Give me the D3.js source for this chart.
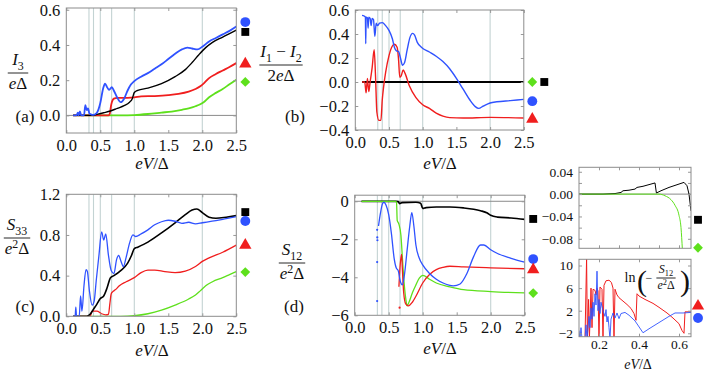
<!DOCTYPE html>
<html>
<head>
<meta charset="utf-8">
<script src="https://cdn.jsdelivr.net/npm/d3@7"></script>
<style>
  body { margin: 0; background: #fff; }
  text { font-family: "Liberation Serif", "DejaVu Serif", serif; fill: #111; }
</style>
</head>
<body>
<svg id="fig" width="706" height="373"></svg>
<script>
// ---- data (x = eV/Delta) ----
var gridV = [1/3, 0.4, 0.5, 2/3, 1.0, 2.0];
var xTicks = [0, 0.5, 1, 1.5, 2, 2.5];

// (a) I3
var a_blue = [[0.1,0],[0.15,0],[0.17,0.015],[0.18,0],[0.2,0.022],[0.22,0],[0.26,0],[0.28,0.058],[0.3,0.03],[0.32,0.04],[0.34,0.01],[0.37,0.005],[0.4,0.003],[0.45,0.015],[0.5,0.07],[0.54,0.15],[0.57,0.18],[0.6,0.16],[0.63,0.145],[0.67,0.16],[0.7,0.14],[0.75,0.1],[0.8,0.075],[0.85,0.095],[0.9,0.14],[0.95,0.175],[1.0,0.195],[1.1,0.22],[1.2,0.24],[1.3,0.265],[1.4,0.29],[1.5,0.32],[1.6,0.35],[1.7,0.375],[1.78,0.385],[1.85,0.38],[1.93,0.375],[2.0,0.39],[2.1,0.42],[2.2,0.44],[2.3,0.46],[2.4,0.48],[2.5,0.505]];
var a_black = [[0.1,0],[0.38,0],[0.45,0.006],[0.55,0.015],[0.65,0.025],[0.75,0.04],[0.85,0.055],[0.93,0.075],[0.97,0.095],[1.0,0.13],[1.05,0.142],[1.2,0.155],[1.4,0.18],[1.6,0.22],[1.75,0.26],[1.85,0.3],[1.95,0.345],[2.05,0.385],[2.15,0.415],[2.3,0.445],[2.4,0.465],[2.5,0.485]];
var a_red = [[0.1,0],[0.62,0],[0.64,0.01],[0.66,0.06],[0.7,0.095],[0.75,0.1],[0.9,0.1],[1.0,0.102],[1.1,0.108],[1.3,0.11],[1.5,0.115],[1.65,0.122],[1.8,0.135],[1.9,0.15],[1.97,0.165],[2.03,0.185],[2.1,0.212],[2.2,0.235],[2.3,0.255],[2.4,0.275],[2.5,0.297]];
var a_green = [[0.1,0],[0.8,0],[1.0,0.002],[1.2,0.008],[1.4,0.016],[1.55,0.022],[1.7,0.032],[1.8,0.04],[1.9,0.052],[1.97,0.063],[2.02,0.075],[2.1,0.103],[2.2,0.128],[2.3,0.15],[2.4,0.177],[2.5,0.203]];

// (b) (I1 - I2)/2
var b_blue = [[0.1,0.555],[0.13,0.55],[0.15,0.54],[0.155,0.32],[0.16,0.54],[0.18,0.535],[0.19,0.45],[0.2,0.54],[0.22,0.53],[0.235,0.47],[0.25,0.53],[0.27,0.52],[0.29,0.38],[0.31,0.49],[0.33,0.47],[0.36,0.49],[0.4,0.495],[0.45,0.47],[0.5,0.43],[0.55,0.36],[0.58,0.29],[0.61,0.26],[0.64,0.255],[0.67,0.2],[0.7,0.14],[0.73,0.16],[0.77,0.27],[0.81,0.37],[0.85,0.405],[0.88,0.39],[0.92,0.33],[0.98,0.29],[1.1,0.25],[1.2,0.215],[1.3,0.17],[1.4,0.11],[1.5,0.03],[1.6,-0.06],[1.7,-0.15],[1.78,-0.205],[1.83,-0.22],[1.9,-0.2],[2.0,-0.175],[2.1,-0.165],[2.3,-0.155],[2.5,-0.145]];
var b_red = [[0.1,0],[0.14,0],[0.16,-0.09],[0.18,0.03],[0.2,-0.08],[0.22,0.0],[0.25,0.12],[0.28,0.27],[0.3,0.05],[0.32,-0.25],[0.35,-0.32],[0.38,-0.32],[0.4,-0.15],[0.42,-0.04],[0.45,0.08],[0.5,0.22],[0.55,0.3],[0.58,0.315],[0.62,0.29],[0.64,0.2],[0.66,0.04],[0.68,0.05],[0.71,0.1],[0.74,0.07],[0.8,-0.03],[0.9,-0.13],[1.0,-0.19],[1.1,-0.22],[1.2,-0.26],[1.3,-0.285],[1.4,-0.297],[1.6,-0.3],[2.0,-0.295],[2.5,-0.3]];
var b_green = [[0.1,0],[2.5,0]];
var b_black = [[0.1,0],[2.5,0]];

// (c) S33
var c_blue = [[0.1,0],[0.13,0],[0.14,0.09],[0.15,0],[0.19,0],[0.21,0.2],[0.23,0.05],[0.26,0.3],[0.29,0.46],[0.31,0.44],[0.34,0.25],[0.38,0.11],[0.41,0.15],[0.44,0.35],[0.48,0.6],[0.52,0.83],[0.55,0.75],[0.58,0.81],[0.62,0.6],[0.66,0.45],[0.7,0.42],[0.74,0.56],[0.77,0.6],[0.8,0.55],[0.84,0.49],[0.88,0.58],[0.93,0.72],[0.98,0.8],[1.02,0.785],[1.1,0.81],[1.2,0.85],[1.3,0.9],[1.4,0.93],[1.5,0.945],[1.6,0.935],[1.7,0.915],[1.8,0.925],[1.9,0.91],[2.0,0.92],[2.2,0.94],[2.35,0.96],[2.5,0.98]];
var c_black = [[0.1,0],[0.3,0],[0.35,0.02],[0.4,0.07],[0.45,0.12],[0.5,0.175],[0.55,0.2],[0.6,0.28],[0.65,0.38],[0.7,0.4],[0.8,0.45],[0.9,0.52],[0.96,0.6],[1.0,0.665],[1.05,0.68],[1.2,0.73],[1.4,0.82],[1.6,0.92],[1.75,1.0],[1.85,1.045],[1.92,1.055],[2.0,1.02],[2.1,0.975],[2.2,0.965],[2.35,0.975],[2.5,0.99]];
var c_red = [[0.1,0],[0.35,0],[0.38,0.05],[0.45,0.05],[0.52,0.025],[0.58,0.015],[0.62,0.02],[0.64,0.12],[0.66,0.22],[0.68,0.24],[0.72,0.26],[0.78,0.3],[0.88,0.34],[1.0,0.38],[1.1,0.43],[1.2,0.455],[1.3,0.455],[1.45,0.44],[1.6,0.43],[1.75,0.445],[1.9,0.49],[2.0,0.54],[2.1,0.575],[2.3,0.63],[2.5,0.7]];
var c_green = [[0.1,0],[0.8,0],[1.0,0.006],[1.2,0.025],[1.4,0.06],[1.6,0.11],[1.8,0.17],[1.9,0.21],[1.97,0.25],[2.05,0.3],[2.15,0.34],[2.3,0.38],[2.4,0.41],[2.5,0.44]];

// (d) S12
var d_black = [[0.1,0],[0.6,0],[0.64,-0.02],[0.66,-0.12],[0.7,-0.07],[0.9,-0.05],[0.97,-0.1],[1.0,-0.38],[1.05,-0.33],[1.2,-0.3],[1.4,-0.3],[1.6,-0.35],[1.75,-0.42],[1.85,-0.5],[1.95,-0.62],[2.0,-0.74],[2.1,-0.83],[2.3,-0.88],[2.5,-0.95]];
var d_blue = [[0.35,-1.3],[0.38,-0.6],[0.41,-0.12],[0.43,-0.05],[0.46,-0.2],[0.5,-0.7],[0.54,-1.7],[0.58,-3.0],[0.61,-3.5],[0.64,-3.65],[0.67,-4.2],[0.7,-4.4],[0.73,-3.9],[0.77,-2.6],[0.81,-1.3],[0.84,-0.6],[0.87,-1.3],[0.9,-2.3],[0.95,-3.0],[1.0,-3.35],[1.1,-3.8],[1.2,-4.1],[1.3,-4.3],[1.45,-4.45],[1.55,-4.35],[1.65,-3.8],[1.75,-2.9],[1.85,-2.3],[1.9,-2.3],[2.0,-2.55],[2.1,-2.75],[2.3,-3.0],[2.5,-3.2]];
var d_blue_pts = [[0.33,-1.5],[0.332,-1.9],[0.334,-2.05],[0.33,-3.2],[0.33,-5.25]];
var d_red = [[0.65,-4.5],[0.67,-3.3],[0.69,-2.8],[0.7,-3.5],[0.72,-4.8],[0.75,-5.4],[0.79,-5.5],[0.85,-5.3],[0.9,-5.0],[1.0,-4.3],[1.1,-3.85],[1.2,-3.6],[1.3,-3.48],[1.4,-3.42],[1.6,-3.45],[2.0,-3.5],[2.5,-3.55]];
var d_red_pts = [[0.66,-5.6]];
var d_green = [[0.1,0],[0.6,0],[0.615,-0.05],[0.625,-1.0],[0.65,-1.2],[0.68,-1.8],[0.7,-2.9],[0.72,-4.0],[0.75,-5.1],[0.77,-5.5],[0.8,-5.3],[0.85,-4.8],[0.9,-4.4],[0.95,-4.05],[1.0,-3.9],[1.1,-4.1],[1.2,-4.3],[1.4,-4.5],[1.6,-4.65],[2.0,-4.75],[2.5,-4.82]];

// insets (zoom of (d) at small eV)
var i1_black = [[0.1,0],[0.22,0],[0.28,0.001],[0.31,0.003],[0.32,0.006],[0.35,0.007],[0.38,0.009],[0.39,0.012],[0.42,0.014],[0.47,0.019],[0.48,0.02],[0.487,0.002],[0.51,0.006],[0.55,0.012],[0.6,0.018],[0.625,0.021],[0.64,0.015],[0.65,0.0],[0.66,-0.03]];
var i1_green = [[0.1,0],[0.5,0],[0.53,-0.003],[0.56,-0.01],[0.58,-0.02],[0.6,-0.038],[0.61,-0.06],[0.617,-0.1]];
var i2_red = [[0.13,-3],[0.138,11.5],[0.142,-3],[0.148,4],[0.152,-3],[0.16,6],[0.165,-1],[0.17,5.8],[0.18,5.6],[0.185,4.8],[0.19,6],[0.195,5.5],[0.2,-3],[0.205,6.2],[0.215,5.8],[0.22,-3],[0.225,6.5],[0.235,7.3],[0.25,7.4],[0.262,7],[0.27,6],[0.275,-3],[0.28,5.8],[0.29,4.8],[0.3,4.3],[0.32,3.7],[0.34,3.1],[0.36,2.4],[0.375,1.5],[0.385,0.3],[0.39,5],[0.4,4.6],[0.43,4],[0.47,3.3],[0.5,2.6],[0.54,1.6],[0.57,0.7],[0.6,-0.3],[0.615,-1.5],[0.625,-2],[0.63,1.8],[0.66,1.8]];
var i2_blue = [[0.1,-1.5],[0.105,-3],[0.11,-1],[0.115,-3],[0.13,-3],[0.135,-0.5],[0.14,-3],[0.15,1],[0.155,-1],[0.16,2.5],[0.165,0.5],[0.17,3.5],[0.175,1],[0.18,5],[0.185,3],[0.19,9],[0.195,2],[0.2,4],[0.205,1.5],[0.21,3.5],[0.22,2],[0.23,1],[0.235,2.2],[0.24,0],[0.245,1],[0.25,-1],[0.255,-3],[0.26,0.5],[0.27,1.6],[0.28,0.7],[0.29,1.6],[0.3,0.6],[0.31,1.5],[0.33,1.7],[0.35,1.2],[0.38,0.2],[0.42,-1.9],[0.45,-1.2],[0.5,-0.1],[0.55,1.0],[0.58,1.6],[0.62,1.6],[0.66,1.7]];

// legend-like markers at the right of each panel (y in data units)
var a_marks = [["blue","circle",0.53],["black","square",0.474],["red","triangle",0.292],["green","diamond",0.19]];
var b_marks = [["green","diamond",0,0],["black","square",0,1],["blue","circle",-0.16,0],["red","triangle",-0.31,0]];
var c_marks = [["black","square",1.025],["blue","circle",0.937],["red","triangle",0.70],["green","diamond",0.435]];
var d_marks = [["black","square",-0.93],["blue","circle",-3.04],["red","triangle",-3.6],["green","diamond",-4.83]];
var i1_marks = [["black","square",-0.046],["green","diamond",-0.096]];
var i2_marks = [["red","triangle",2.83],["blue","circle",0.71]];

var col = {blue:"#2f52ff", red:"#f01e1e", green:"#5ee01c", black:"#000"};

var svg = d3.select("#fig");
var clipN = 0;

function mtext(g, x, y, parts, size, anchor){
  var t = g.append("text").attr("x", x).attr("y", y)
    .attr("text-anchor", anchor || "middle").style("font-size", size + "px");
  var shift = 0;
  parts.forEach(function(p){
    var s = t.append("tspan").text(p[0]);
    var want = p[1] === "sub" ? size*0.25 : (p[1] === "sup" ? -size*0.38 : 0);
    if(want - shift !== 0) s.attr("dy", want - shift);
    shift = want;
    if(p[1] === "i") s.style("font-style", "italic");
    if(p[1] === "sub" || p[1] === "sup") s.style("font-size", (size*0.7) + "px");
  });
  return t;
}

function frac(g, cx, cy, num, den, size){
  var n = mtext(g, cx, cy - size*0.45, num, size);
  var d = mtext(g, cx, cy + size*0.95, den, size);
  var w = Math.max(n.node().getComputedTextLength(), d.node().getComputedTextLength()) + 2;
  g.append("line").attr("x1", cx - w/2).attr("x2", cx + w/2)
    .attr("y1", cy).attr("y2", cy).attr("stroke", "#111").attr("stroke-width", 0.9);
}

function marker(g, x, y, c, shape){
  var types = {circle: d3.symbolCircle, square: d3.symbolSquare, triangle: d3.symbolTriangle, diamond: d3.symbolSquare};
  var sizes = {circle: 76, square: 62, triangle: 66, diamond: 48};
  g.append("path").attr("d", d3.symbol().type(types[shape]).size(sizes[shape])())
    .attr("transform", "translate(" + x + "," + y + ")" + (shape === "diamond" ? " rotate(45)" : ""))
    .attr("fill", col[c]);
}

function panel(p){
  var x = d3.scaleLinear().domain(p.xd).range(p.xr);
  var y = d3.scaleLinear().domain(p.yd).range(p.yr);
  var g = svg.append("g");
  var id = "clip" + (clipN++);
  g.append("clipPath").attr("id", id).append("rect")
    .attr("x", p.xr[0]).attr("y", p.yr[1])
    .attr("width", p.xr[1] - p.xr[0]).attr("height", p.yr[0] - p.yr[1]);
  var inner = g.append("g").attr("clip-path", "url(#" + id + ")");

  (p.grid || []).forEach(function(v){
    inner.append("line").attr("x1", x(v)).attr("x2", x(v))
      .attr("y1", p.yr[0]).attr("y2", p.yr[1])
      .attr("stroke", "#c3d3d3").attr("stroke-width", 1.1);
  });
  if(p.zero){
    inner.append("line").attr("x1", p.xr[0]).attr("x2", p.xr[1])
      .attr("y1", y(0)).attr("y2", y(0)).attr("stroke", "#8a8a8a").attr("stroke-width", 1);
  }

  var line = d3.line().x(function(d){ return x(d[0]); }).y(function(d){ return y(d[1]); });
  p.series.forEach(function(s){
    inner.append("path").datum(s.data)
      .attr("d", line.curve(s.curve || d3.curveMonotoneX))
      .attr("fill", "none").attr("stroke", col[s.c])
      .attr("stroke-width", s.w || p.lw || 1.5)
      .attr("stroke-linejoin", "round");
    (s.pts || []).forEach(function(d){
      inner.append("circle").attr("cx", x(d[0])).attr("cy", y(d[1])).attr("r", 1.1).attr("fill", col[s.c]);
    });
  });

  // frame + inward ticks
  var ts = 3;
  var fmtY = p.fmtY || d3.format(".1f");
  var pad = p.pad || 6;
  var axB = g.append("g").attr("transform", "translate(0," + p.yr[0] + ")")
    .call(d3.axisBottom(x).tickValues(p.xt).tickSize(-ts).tickPadding(pad)
      .tickFormat(p.noXLabels ? "" : (p.fmtX || d3.format(".1f"))));
  var axT = g.append("g").attr("transform", "translate(0," + p.yr[1] + ")")
    .call(d3.axisTop(x).tickValues(p.xt).tickSize(-ts).tickFormat(""));
  var axL = g.append("g").attr("transform", "translate(" + p.xr[0] + ",0)")
    .call(d3.axisLeft(y).tickValues(p.yt).tickSize(-ts).tickPadding(6).tickFormat(fmtY));
  var axR = g.append("g").attr("transform", "translate(" + p.xr[1] + ",0)")
    .call(d3.axisRight(y).tickValues(p.yt).tickSize(-ts).tickFormat(""));
  [axB, axT, axL, axR].forEach(function(a){
    a.select(".domain").remove();
    a.selectAll(".tick line").attr("stroke", "#999");
    a.selectAll("text").style("font-size", (p.fs || 16.5) + "px")
      .style("font-family", "'Liberation Serif', serif").attr("fill", "#111");
  });
  g.append("rect").attr("x", p.xr[0]).attr("y", p.yr[1])
    .attr("width", p.xr[1] - p.xr[0]).attr("height", p.yr[0] - p.yr[1])
    .attr("fill", "none").attr("stroke", "#8c8c8c").attr("stroke-width", 1);

  (p.marks || []).forEach(function(m){
    marker(g, p.xr[1] + p.mdx + (m[3] || 0)*12, y(m[2]), m[0], m[1]);
  });
  return g;
}

var ev = [["e","i"],["V","i"],["/",""],["\u0394",""]];

// (a)
var ga = panel({xd:[0,2.5], xr:[66.3,236.3], yd:[-0.1,0.61], yr:[133,8], xt:xTicks, yt:[0,0.2,0.4,0.6],
  grid:gridV, zero:true, lw:1.8, mdx:9, marks:a_marks,
  series:[{data:a_green,c:"green"},{data:a_red,c:"red"},{data:a_black,c:"black",w:1.4},{data:a_blue,c:"blue"}]});
frac(ga, 18, 73, [["I","i"],["3","sub"]], [["e","i"],["\u0394",""]], 17);
mtext(ga, 25, 122, [["(a)",""]], 17);
mtext(ga, 152, 169, ev, 17);

// (b)
var gb = panel({xd:[0,2.5], xr:[355.3,523.8], yd:[-0.4,0.6], yr:[130,10], xt:xTicks, yt:[-0.4,-0.2,0,0.2,0.4,0.6],
  grid:gridV, lw:1.4, mdx:8.5, marks:b_marks,
  series:[{data:b_green,c:"green"},{data:b_black,c:"black",w:1.8},{data:b_red,c:"red"},{data:b_blue,c:"blue"}]});
frac(gb, 281, 65, [["I","i"],["1","sub"],[" \u2212 ",""],["I","i"],["2","sub"]], [["2",""],["e","i"],["\u0394",""]], 17);
mtext(gb, 295, 122, [["(b)",""]], 17);
mtext(gb, 440, 169, ev, 17);

// (c)
var gc = panel({xd:[0,2.5], xr:[66.3,236.3], yd:[0,1.2], yr:[316.3,194.3], xt:xTicks, yt:[0,0.4,0.8,1.2],
  grid:gridV, lw:1.5, mdx:9, marks:c_marks,
  series:[{data:c_green,c:"green",w:1.3},{data:c_red,c:"red",w:1.3},{data:c_black,c:"black",w:1.6},{data:c_blue,c:"blue",w:1.3}]});
frac(gc, 17, 238, [["S","i"],["33","sub"]], [["e","i"],["2","sup"],["\u0394",""]], 17);
mtext(gc, 25, 312, [["(c)",""]], 17);
mtext(gc, 152, 356, ev, 17);

// (d)
var gd = panel({xd:[0,2.5], xr:[354.7,524.7], yd:[-6,0.32], yr:[315.3,195.2], xt:xTicks, yt:[-6,-4,-2,0],
  grid:gridV, zero:true, lw:1.3, mdx:8.5, marks:d_marks, fmtY:d3.format("d"),
  series:[{data:d_black,c:"black",w:1.7},{data:d_green,c:"green"},{data:d_red,c:"red",pts:d_red_pts},{data:d_blue,c:"blue",pts:d_blue_pts}]});
frac(gd, 292, 263, [["S","i"],["12","sub"]], [["e","i"],["2","sup"],["\u0394",""]], 17);
mtext(gd, 294, 312, [["(d)",""]], 17);
mtext(gd, 440, 354, ev, 17);

// insets
var insX = [0.1, 0.66];
var g1 = panel({xd:insX, xr:[579,691], yd:[-0.097,0.048], yr:[248.3,167.3], xt:[0.2,0.3,0.4,0.5,0.6],
  yt:[-0.08,-0.06,-0.04,-0.02,0,0.02,0.04], noXLabels:true, zero:true, lw:1, fs:13.5, mdx:7, marks:i1_marks,
  fmtY:function(v){ return Math.round(v*100) % 4 === 0 ? d3.format(".2f")(v) : ""; },
  series:[{data:i1_black,c:"black",curve:d3.curveLinear},{data:i1_green,c:"green"}]});

var g2 = panel({xd:insX, xr:[579,691], yd:[-2.6,11.1], yr:[336.7,259.3], xt:[0.2,0.4,0.6],
  yt:[-2,2,6,10], lw:1, fs:13.5, pad:3, mdx:7, marks:i2_marks, fmtY:d3.format("d"),
  series:[{data:i2_red,c:"red",curve:d3.curveLinear},{data:i2_blue,c:"blue",curve:d3.curveLinear,w:0.9}]});
mtext(g2, 638, 369, ev, 14);
// ln(-S12/(e^2 Delta)) label
mtext(g2, 630, 282, [["ln",""]], 14);
g2.append("text").attr("x", 637).attr("y", 291).style("font-size", "30px").style("font-weight", "300").text("(");
g2.append("text").attr("x", 680).attr("y", 291).style("font-size", "30px").style("font-weight", "300").text(")");
mtext(g2, 649, 282, [["\u2212",""]], 12);
frac(g2, 666, 278, [["S","i"],["12","sub"]], [["e","i"],["2","sup"],["\u0394",""]], 12);
</script>
</body>
</html>
